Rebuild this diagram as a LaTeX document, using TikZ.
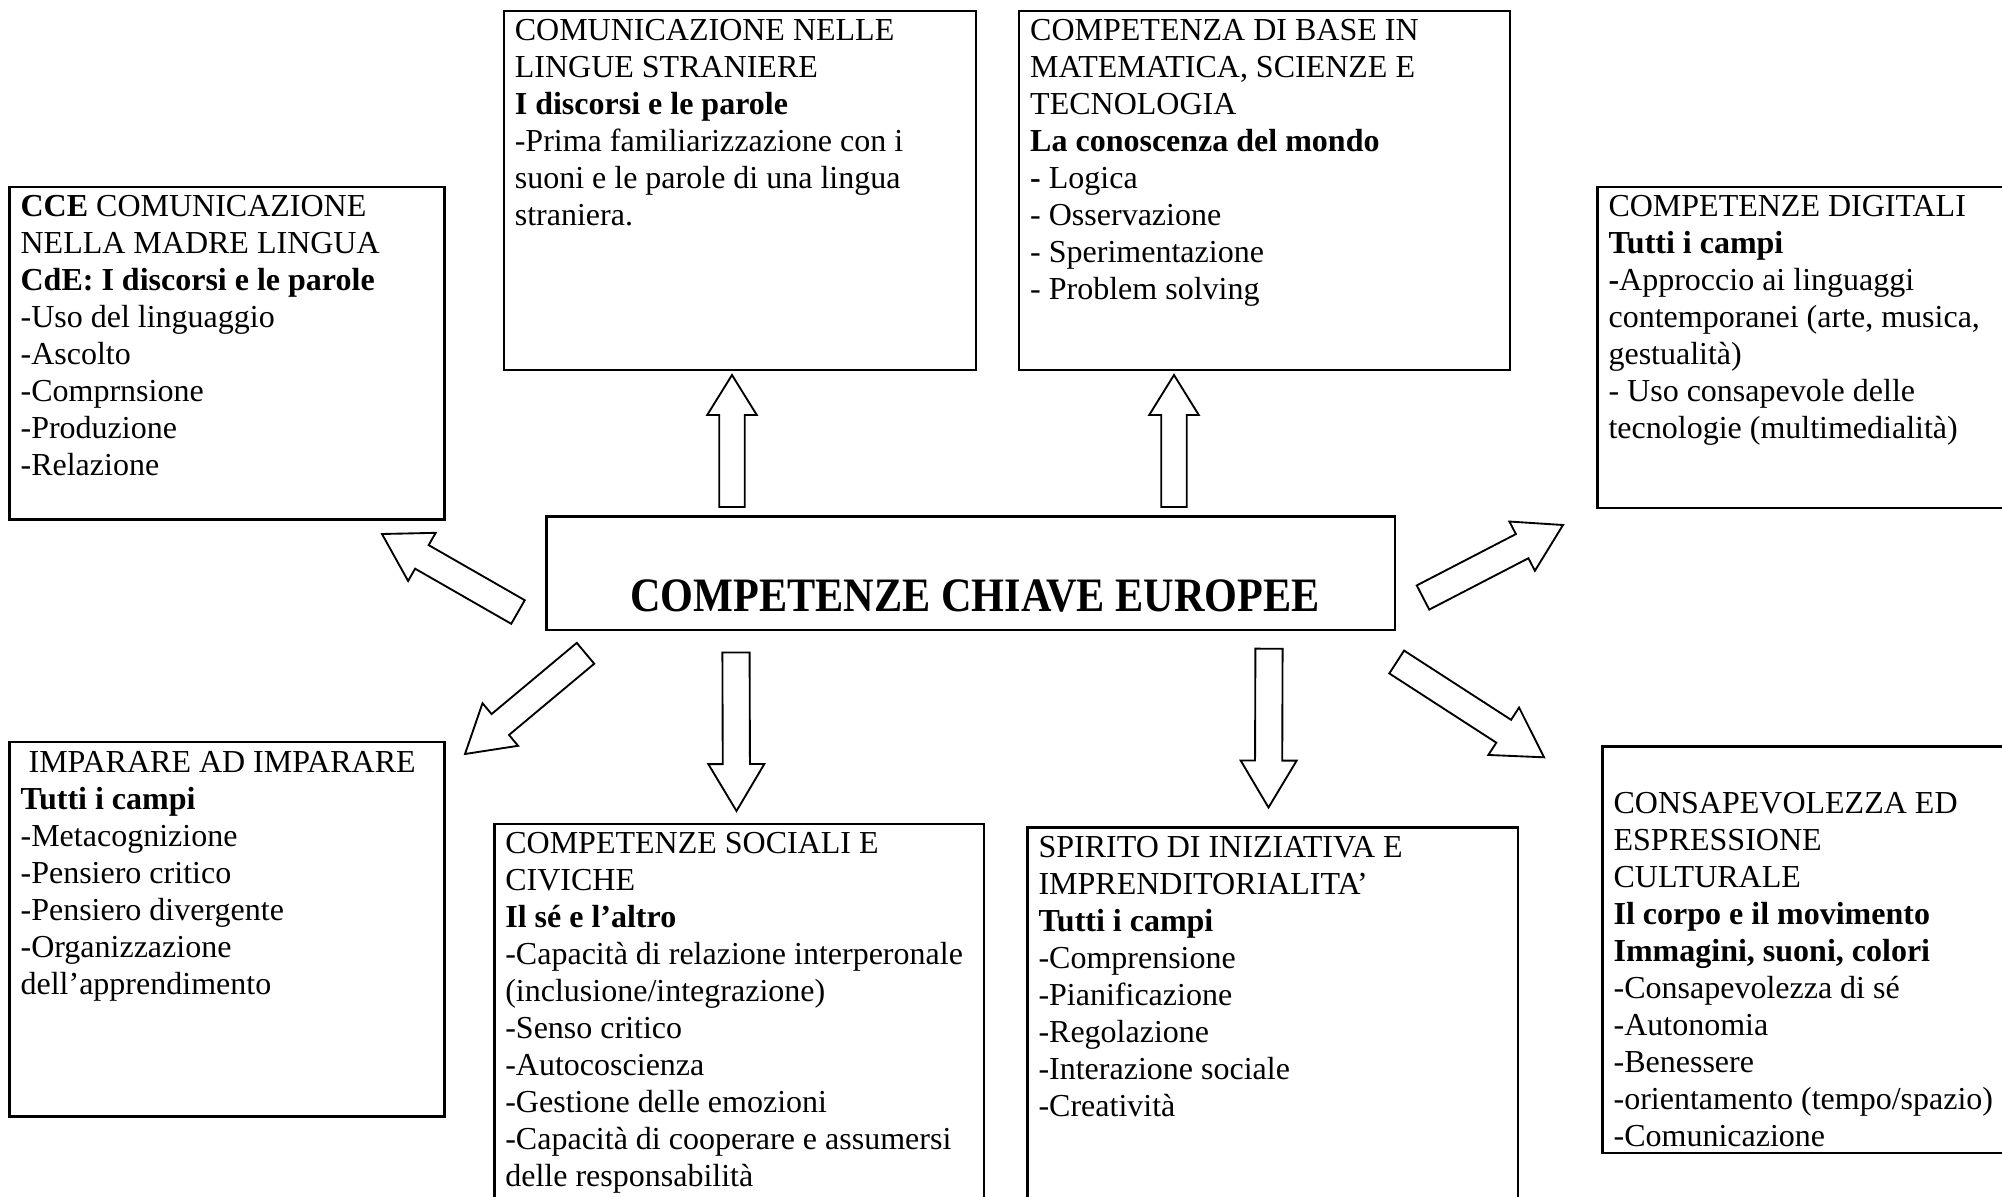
\documentclass[tikz,border=0pt]{standalone}
\usepackage{fontspec}
\setmainfont{Liberation Serif}
\usepackage{graphicx}
\usepackage{tikz}
\usetikzlibrary{calc}

\begin{document}
\begin{tikzpicture}[x=0.375pt, y=-0.375pt,
    box/.style={draw, line width=0.9pt, inner sep=0pt, outer sep=0pt, anchor=north west},
    txt/.style={inner sep=0pt, anchor=north west, align=left, font=\fontsize{12}{13.875}\selectfont},
    blockarrow/.style={draw, line width=0.7pt, fill=white}]
    \useasboundingbox (0,0) rectangle (2002,1197);
    \clip (0,0) rectangle (2002,1197);

    % Central box
    \node[box, minimum width=318.1pt, minimum height=42.5pt] (mid) at (546.6,516.6) {};
    \node[anchor=base, inner sep=0pt, font=\fontsize{18}{20}\selectfont\bfseries] (mid-t) at (975,611) {\scalebox{0.88}[1]{COMPETENZE CHIAVE EUROPEE}};

    % Upper row
    \node[box, minimum width=163.1pt, minimum height=124.7pt] (cce) at (9.6,186.8) {};
    \node[txt] (cce-t) at ([shift={(10.5,3.6)}]cce.north west) {\strut\textbf{CCE} COMUNICAZIONE\\
        NELLA MADRE LINGUA\\
        \textbf{CdE: I discorsi e le parole}\\
        -Uso del linguaggio\\
        -Ascolto\\
        -Comprnsione\\
        -Produzione\\
        -Relazione};

    \node[box, minimum width=177pt, minimum height=134.7pt] (lingue) at (503.8,10.7) {};
    \node[txt] (lingue-t) at ([shift={(10.5,3.6)}]lingue.north west) {\strut COMUNICAZIONE NELLE\\
        LINGUE STRANIERE\\
        \textbf{I discorsi e le parole}\\
        -Prima familiarizzazione con i\\
        suoni e le parole di una lingua\\
        straniera.};

    \node[box, minimum width=184pt, minimum height=134.7pt] (base) at (1019.2,10.7) {};
    \node[txt] (base-t) at ([shift={(10.5,3.6)}]base.north west) {\strut COMPETENZA DI BASE IN\\
        MATEMATICA, SCIENZE E\\
        TECNOLOGIA\\
        \textbf{La conoscenza del mondo}\\
        \textbf{-} Logica\\
        - Osservazione\\
        - Sperimentazione\\
        - Problem solving};

    \node[box, minimum width=154.7pt, minimum height=120.4pt] (digitali) at (1597.5,186.8) {};
    \node[txt] (digitali-t) at ([shift={(10.5,3.6)}]digitali.north west) {\strut COMPETENZE DIGITALI\\
        \textbf{Tutti i campi}\\
        \textbf{-}Approccio ai linguaggi\\
        contemporanei (arte, musica,\\
        gestualità)\\
        - Uso consapevole delle\\
        tecnologie (multimedialità)};

    % Lower row
    \node[box, minimum width=163.1pt, minimum height=140.5pt] (imparare) at (9.6,742) {};
    \node[txt] (imparare-t) at ([shift={(10.5,3.6)}]imparare.north west) {\strut\ IMPARARE AD IMPARARE\\
        \textbf{Tutti i campi}\\
        -Metacognizione\\
        -Pensiero critico\\
        -Pensiero divergente\\
        -Organizzazione\\
        dell’apprendimento};

    \node[box, minimum width=183.7pt, minimum height=144.8pt] (sociali) at (494.3,823.9) {};
    \node[txt] (sociali-t) at ([shift={(10.5,3.6)}]sociali.north west) {\strut COMPETENZE SOCIALI E\\
        CIVICHE\\
        \textbf{Il sé e l’altro}\\
        -Capacità di relazione interperonale\\
        (inclusione/integrazione)\\
        -Senso critico\\
        -Autocoscienza\\
        -Gestione delle emozioni\\
        -Capacità di cooperare e assumersi\\
        delle responsabilità};

    \node[box, minimum width=184pt, minimum height=143.5pt] (spirito) at (1027.5,827.3) {};
    \node[txt] (spirito-t) at ([shift={(10.5,3.6)}]spirito.north west) {\strut SPIRITO DI INIZIATIVA E\\
        IMPRENDITORIALITA’\\
        \textbf{Tutti i campi}\\
        -Comprensione\\
        -Pianificazione\\
        -Regolazione\\
        -Interazione sociale\\
        -Creatività};

    \node[box, minimum width=152.8pt, minimum height=152.3pt] (consap) at (1602.6,746.6) {};
    \node[txt] (consap-t) at ([shift={(10.5,40.6)}]consap.north west) {\strut CONSAPEVOLEZZA ED\\
        ESPRESSIONE\\
        CULTURALE\\
        \textbf{Il corpo e il movimento}\\
        \textbf{Immagini, suoni, colori}\\
        -Consapevolezza di sé\\
        -Autonomia\\
        -Benessere\\
        -orientamento (tempo/spazio)\\
        -Comunicazione};

    % Arrow ends
    \coordinate (lingue-a) at (732,507);    \coordinate (lingue-b) at (732,375);
    \coordinate (base-a) at (1174,507);     \coordinate (base-b) at (1174,375);
    \coordinate (cce-a) at (518,612);       \coordinate (cce-b) at (382,534);
    \coordinate (digitali-a) at (1423,597.5); \coordinate (digitali-b) at (1563,525);
    \coordinate (imparare-a) at (585.5,653.3); \coordinate (imparare-b) at (465,754);
    \coordinate (sociali-a) at (736,652.5);  \coordinate (sociali-b) at (736.5,811);
    \coordinate (spirito-a) at (1269,648.7); \coordinate (spirito-b) at (1268.5,807.5);
    \coordinate (consap-a) at (1396.7,662);  \coordinate (consap-b) at (1544,757.3);

    % Block arrows
    \foreach \atail/\ahead/\hlen/\hwid/\swid in {lingue-a/lingue-b/15pt/9.3pt/4.8pt,
        base-a/base-b/15pt/9.3pt/4.8pt, cce-a/cce-b/17.25pt/10.4pt/5.1pt,
        digitali-a/digitali-b/17.25pt/10.4pt/5.1pt, imparare-a/imparare-b/17.25pt/10.4pt/5.1pt,
        sociali-a/sociali-b/17.6pt/10.5pt/5.1pt, spirito-a/spirito-b/17.6pt/10.5pt/5.1pt,
        consap-a/consap-b/18pt/10.6pt/5.1pt} {
        \coordinate (hb) at ($(\ahead)!\hlen!(\atail)$);
        \draw[blockarrow] ($(\atail)!\swid!90:(\ahead)$) -- ($(hb)!\swid!-90:(\atail)$)
            -- ($(hb)!\hwid!-90:(\atail)$) -- (\ahead) -- ($(hb)!\hwid!90:(\atail)$)
            -- ($(hb)!\swid!90:(\atail)$) -- ($(\atail)!\swid!-90:(\ahead)$) -- cycle;
    }
\end{tikzpicture}
\end{document}
